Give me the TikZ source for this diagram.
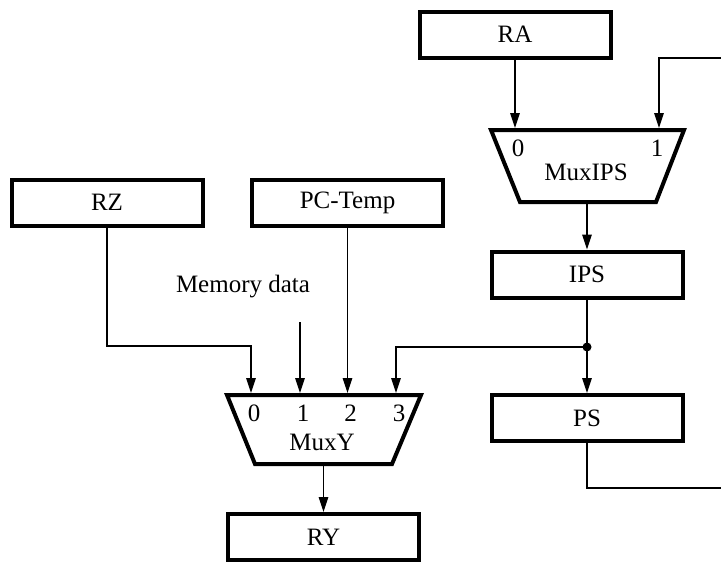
\documentclass[tikz,border=0pt]{standalone}
\usepackage{fontspec}
\setmainfont{Liberation Serif}
\usetikzlibrary{positioning, arrows.meta, calc}

\begin{document}
\begin{tikzpicture}[x=1pt, y=-1pt, >={Triangle[length=15pt,width=9.5pt]},
  reg/.style={draw, line width=4pt, minimum width=191pt, minimum height=46pt, inner sep=0pt, font=\fontsize{25}{28}\selectfont},
  mux/.style={draw, line width=4pt, line join=miter},
  wire/.style={line width=1.3pt},
  lbl/.style={font=\fontsize{25}{28}\selectfont, inner sep=0pt}]
\useasboundingbox (0,0) rectangle (721,563);
% registers
\node[reg] (ra) at (515,34.5) {RA};
\node[reg] (rz) at (107,202.5) {RZ};
\node[reg] (pctemp) at (347.5,202.5) {PC-Temp};
\node[reg] (ips) at (587,274.5) {IPS};
\node[reg] (ps) at (587,418) {PS};
\node[reg] (ry) at (323.5,537) {RY};

% multiplexers
\draw[mux] (491,130) -- (684,130) -- (656,202) -- (520,202) -- cycle;
\node[lbl] (muxips) at (586,172) {MuxIPS};
\node[lbl] (ipsl0) at (518,148) {0};
\node[lbl] (ipsl1) at (657,148) {1};
\coordinate (ips0) at (515,128);
\coordinate (ips1) at (659,128);
\coordinate (ipsout) at (587,204);

\draw[mux] (227,395) -- (421,395) -- (392,464) -- (255,464) -- cycle;
\node[lbl] (muxy) at (322,442) {MuxY};
\foreach \i/\x in {0/251, 1/300, 2/347.5, 3/396} {
  \node[lbl] (yl\i) at (\x+3,413) {\i};
  \coordinate (y\i) at (\x,393);
}
\coordinate (yout) at (323.5,466);

% inputs
\node[lbl] (memdata) at (243,287) {Memory data};
\coordinate (mdin) at (300,322);
\coordinate (fbin) at (721,58);
\coordinate (fbout) at (721,488);
\coordinate (tap) at (587,347);
\coordinate (bendz) at (251,346);

% wires
\draw[wire,->] (ra.south) -- (ips0);
\draw[wire,->] (fbin) -| (ips1);
\draw[wire,->] (ipsout) -- (ips.north);
\draw[wire] (ips.south) -- (tap);
\draw[wire,->] (tap) -- (ps.north);
\draw[wire,->] (tap) -| (y3);
\fill (tap) circle (4.5pt);
\draw[wire] (ps.south) |- (fbout);
\draw[wire,->] (rz.south) |- (bendz) -- (y0);
\draw[wire,->] (mdin) -- (y1);
\draw[wire,->] (pctemp.south) -- (y2);
\draw[wire,->] (yout) -- (ry.north);
\end{tikzpicture}
\end{document}
